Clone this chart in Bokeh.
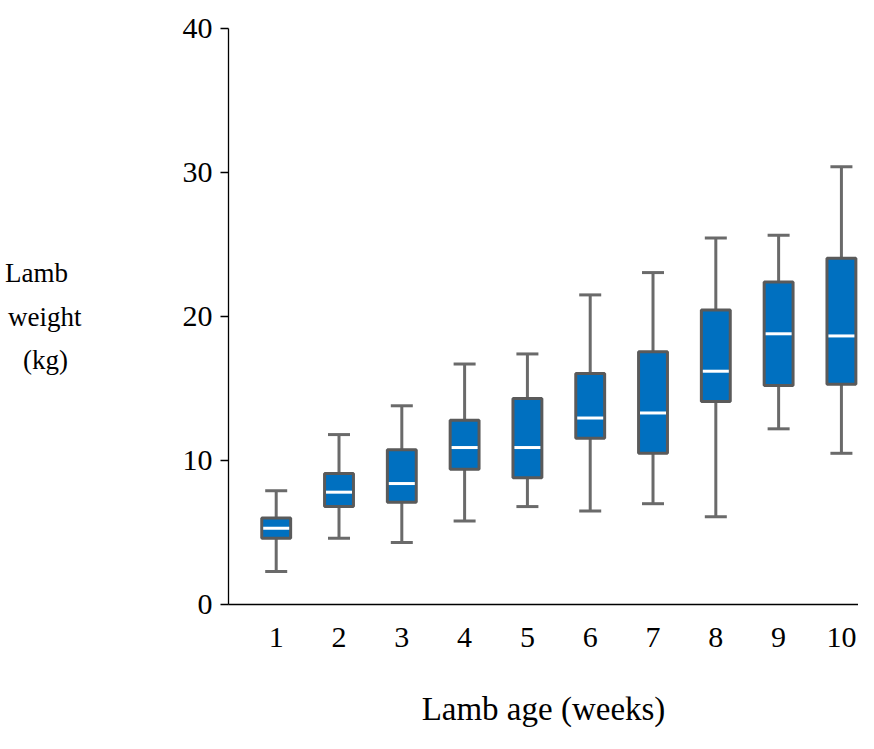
from bokeh.plotting import figure
from bokeh.models import Range1d, FixedTicker, ColumnDataSource
from bokeh.embed import file_html
from bokeh.resources import INLINE

# ---- data ----
weeks = [1, 2, 3, 4, 5, 6, 7, 8, 9, 10]
week_labels = ["1", "2", "3", "4", "5", "6", "7", "8", "9", "10"]
lower = [2.3, 4.6, 4.3, 5.8, 6.8, 6.5, 7.0, 6.1, 12.2, 10.5]
q1 = [4.6, 6.8, 7.1, 9.4, 8.8, 11.55, 10.5, 14.1, 15.2, 15.3]
median = [5.3, 7.8, 8.4, 10.9, 10.9, 12.95, 13.3, 16.2, 18.8, 18.65]
q3 = [6.0, 9.1, 10.75, 12.8, 14.3, 16.05, 17.55, 20.45, 22.4, 24.05]
upper = [7.9, 11.8, 13.8, 16.7, 17.4, 21.5, 23.05, 25.45, 25.65, 30.4]
y_ticks = [0, 10, 20, 30, 40]

FONT = "Liberation Serif"
FS = "30px"
BOX_FILL = "#0070C0"
BOX_LINE = "#5A5A5A"
WHISK = "#6A6A6A"

src = ColumnDataSource(dict(x=weeks, lower=lower, q1=q1, median=median, q3=q3, upper=upper))

p = figure(
    frame_width=630, frame_height=576,
    min_border_left=228, min_border_right=0, min_border_top=28, min_border_bottom=137,
    x_range=Range1d(0.2404, 10.272), y_range=Range1d(0, 40),
    output_backend="svg", toolbar_location=None,
)
p.background_fill_color = "white"
p.border_fill_color = "white"
p.outline_line_color = None
p.xgrid.visible = False
p.ygrid.visible = False

# whisker stems
p.segment(x0="x", y0="q3", x1="x", y1="upper", source=src, line_color=WHISK, line_width=3)
p.segment(x0="x", y0="lower", x1="x", y1="q1", source=src, line_color=WHISK, line_width=3)
# caps
p.dash(x="x", y="upper", source=src, size=22, line_color=WHISK, line_width=3)
p.dash(x="x", y="lower", source=src, size=22, line_color=WHISK, line_width=3)
# boxes
p.vbar(x="x", bottom="q1", top="q3", width=0.46, source=src,
       fill_color=BOX_FILL, line_color=BOX_LINE, line_width=3)
# medians
p.dash(x="x", y="median", source=src, size=26, line_color="white", line_width=3)

# x axis
xa = p.xaxis[0]
xa.ticker = FixedTicker(ticks=weeks)
xa.major_label_overrides = {w: s for w, s in zip(weeks, week_labels)}
xa.major_tick_line_color = None
xa.minor_tick_line_color = None
xa.axis_line_color = "black"
xa.axis_line_width = 1.3
xa.major_label_standoff = 17
xa.major_label_text_font = FONT
xa.major_label_text_font_size = FS
xa.major_label_text_color = "black"
xa.axis_label = "Lamb age (weeks)"
xa.axis_label_text_font = FONT
xa.axis_label_text_font_size = "33px"
xa.axis_label_text_font_style = "normal"
xa.axis_label_text_color = "black"
xa.axis_label_standoff = 41

# y axis
ya = p.yaxis[0]
ya.ticker = FixedTicker(ticks=y_ticks)
ya.major_tick_in = 0
ya.major_tick_out = 8
ya.major_tick_line_color = "black"
ya.major_tick_line_width = 1.3
ya.minor_tick_line_color = None
ya.axis_line_color = "black"
ya.axis_line_width = 1.3
ya.major_label_standoff = 8
ya.major_label_text_font = FONT
ya.major_label_text_font_size = FS
ya.major_label_text_color = "black"
ya.axis_label = "Lamb\u00a0\u00a0\nweight\n(kg)\u00a0\u00a0"
ya.axis_label_orientation = "horizontal"
ya.axis_label_text_font = FONT
ya.axis_label_text_font_size = "27px"
ya.axis_label_text_font_style = "normal"
ya.axis_label_text_color = "black"
ya.axis_label_text_line_height = 1.45
ya.axis_label_standoff = 98

open("out.html", "w").write(file_html(p, INLINE))
